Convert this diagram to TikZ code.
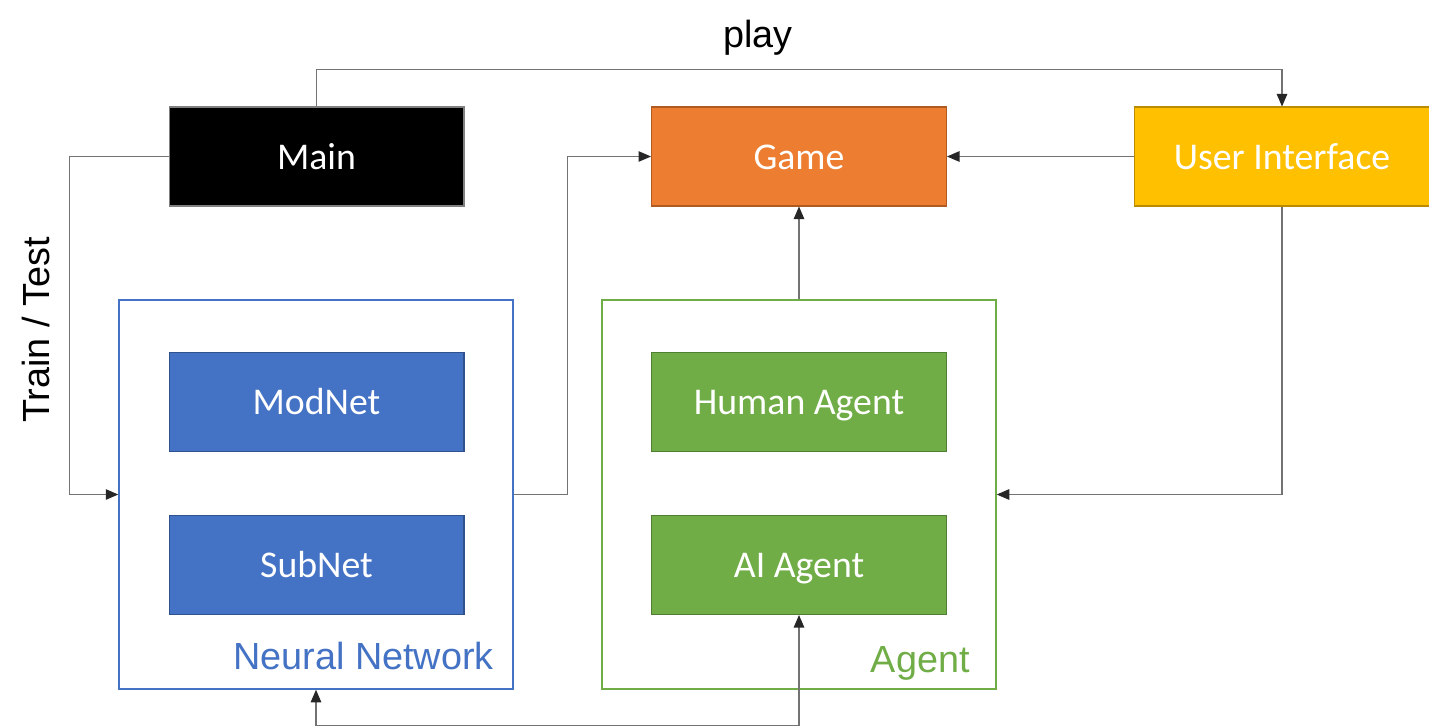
\documentclass[tikz,border=0pt]{standalone}
\usepackage{fontspec}
\setmainfont{Carlito}
\newfontfamily\arialfont{Liberation Sans}
\usepackage{tikz}
\usetikzlibrary{arrows.meta,positioning}
\definecolor{gameorange}{HTML}{ED7D31}
\definecolor{gameedge}{HTML}{AE5A21}
\definecolor{uiyellow}{HTML}{FFC000}
\definecolor{uiedge}{HTML}{BC8C00}
\definecolor{nnblue}{HTML}{4472C4}
\definecolor{nnedge}{HTML}{2F528F}
\definecolor{agentgreen}{HTML}{70AD47}
\definecolor{agentedge}{HTML}{507E32}

\begin{document}
\begin{tikzpicture}[x=0.02cm,y=-0.02cm]
\tikzstyle{every node}+=[inner sep=0pt]
\tikzstyle{block}=[minimum width=5.9cm,minimum height=1.98cm,text=white,line width=0.6pt,text height=15pt,text depth=0.6pt,font=\fontsize{21.5}{26}\selectfont]
\tikzstyle{frame}=[minimum width=7.88cm,minimum height=7.78cm,line width=0.9pt]
\tikzstyle{tag}=[font=\arialfont\fontsize{21.5}{26}\selectfont]
\tikzstyle{link}=[black!55,line width=0.6pt,-{Triangle[length=0.25cm,width=0.21cm,color=black!85]}]
\useasboundingbox (0,0) rectangle (1429,727);
% top row
\node [block,fill=black,draw=black!50] (main) at (316.5,156.5) {Main};
\node [block,fill=gameorange,draw=gameedge] (game) at (799,156.5) {Game};
\node [block,fill=uiyellow,draw=uiedge] (ui) at (1282,156.5) {User Interface};
% containers
\node [frame,draw=nnblue] (nn) at (316,494.5) {};
\node [frame,draw=agentgreen] (agent) at (799,494.5) {};
\node [block,fill=nnblue,draw=nnedge] (modnet) at (316.5,402) {ModNet};
\node [block,fill=nnblue,draw=nnedge] (subnet) at (316.5,565) {SubNet};
\node [block,fill=agentgreen,draw=agentedge] (human) at (799,402) {Human Agent};
\node [block,fill=agentgreen,draw=agentedge] (aiagent) at (799,565) {AI Agent};
\node [tag,text=nnblue,anchor=base east] (nnlabel) at (494,669) {Neural Network};
\node [tag,text=agentgreen,anchor=base east] (agentlabel) at (970,672) {Agent};
% connectors
\draw [link] (main.north) -- ++(0,-37) -| (ui.north);
\node [tag] (play) at (758,38) {play};
\draw [link] (main.west) -- ++(-99,0) |- (nn.west);
\node [tag,rotate=90] (traintest) at (36,330) {Train / Test};
\draw [link] (nn.east) -- ++(54,0) |- (game.west);
\draw [link] (ui.west) -- (game.east);
\draw [link] (agent.north) -- (game.south);
\draw [link] (ui.south) |- (agent.east);
\draw [link,{Triangle[length=0.25cm,width=0.21cm,color=black!85]}-{Triangle[length=0.25cm,width=0.21cm,color=black!85]}] (nn.south) -- ++(0,36) -| (aiagent.south);
\end{tikzpicture}
\end{document}
